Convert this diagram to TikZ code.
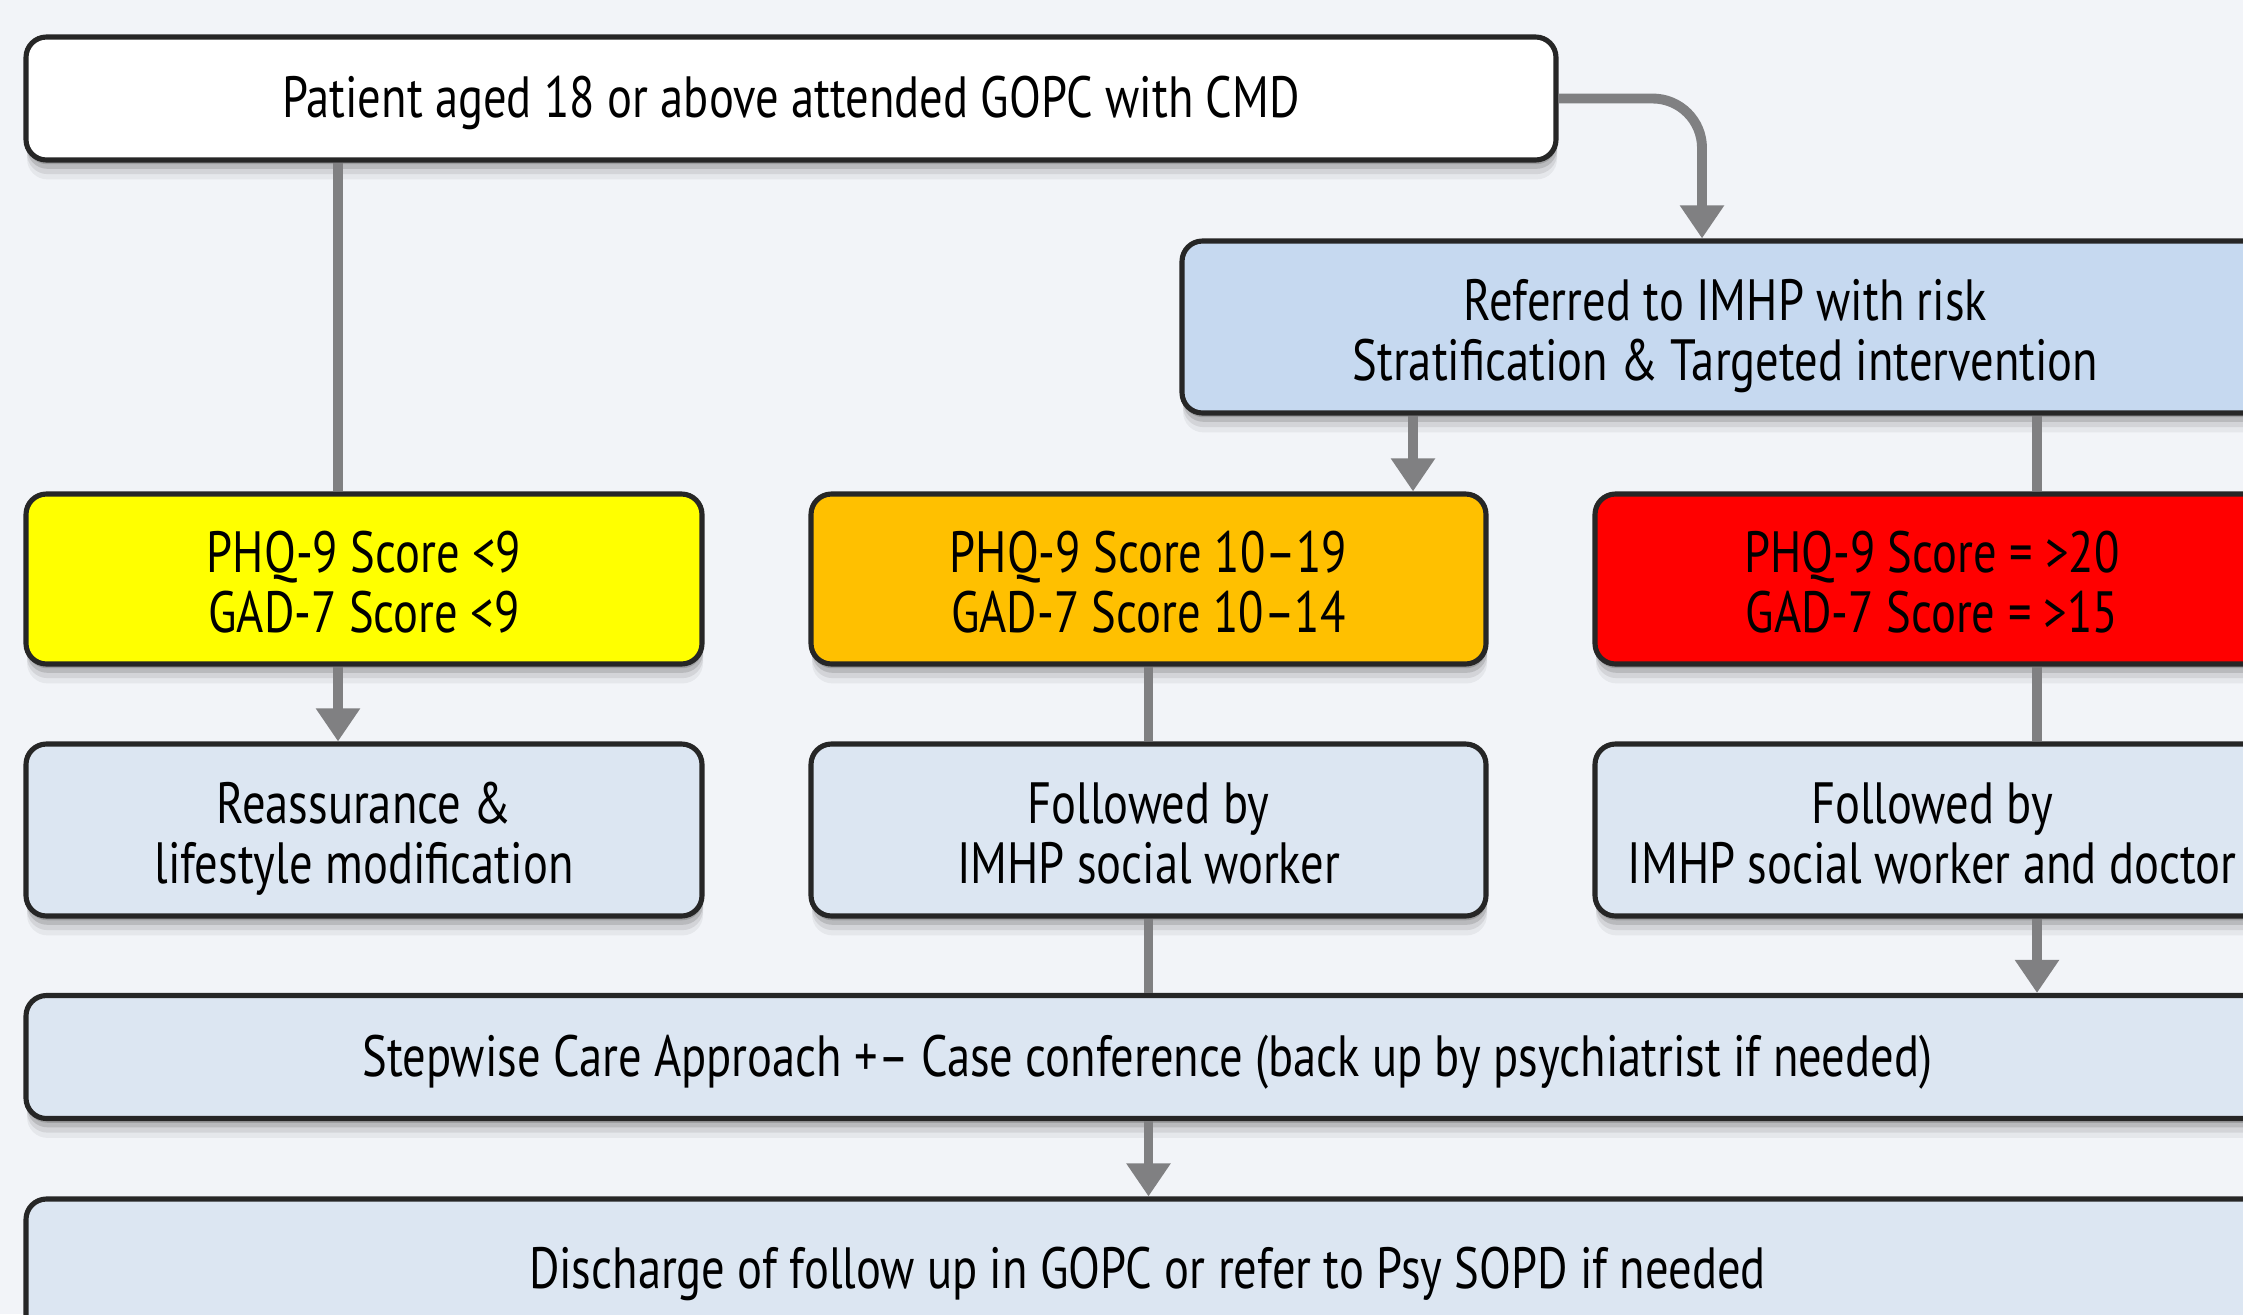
\documentclass[tikz,border=0pt]{standalone}
\usepackage{fontspec}
\setmainfont[FakeStretch=0.8]{PT Sans}
\usetikzlibrary{arrows.meta,shadows,calc}
\definecolor{bgc}{RGB}{242,244,248}
\definecolor{edgec}{RGB}{38,38,38}
\definecolor{refc}{RGB}{198,217,240}
\definecolor{lowc}{RGB}{220,230,242}
\definecolor{yelc}{RGB}{255,255,0}
\definecolor{orgc}{RGB}{255,192,0}
\definecolor{redc}{RGB}{255,0,0}
\definecolor{connc}{RGB}{128,128,130}
\newcommand\onel[1]{\rule{0pt}{15.5pt}#1\rule[-4.5pt]{0pt}{0pt}}
\newcommand\twol[2]{\vbox{\baselineskip=17pt\lineskiplimit=-100pt\lineskip=0pt
  \halign{\hfil##\hfil\cr\rule{0pt}{18pt}#1\cr#2\rule[-4.5pt]{0pt}{0pt}\cr}}}
\tikzset{
  box/.style={draw=edgec, line width=1.45pt, rounded corners=5.8pt, inner sep=0pt,
    font=\fontsize{16.5}{17}\selectfont,
    drop shadow={shadow xshift=0.3pt, shadow yshift=-5.5pt, opacity=0.05, fill=black},
    drop shadow={shadow xshift=0.3pt, shadow yshift=-4pt, opacity=0.08, fill=black},
    drop shadow={shadow xshift=0.3pt, shadow yshift=-2.5pt, opacity=0.12, fill=black},
    drop shadow={shadow xshift=0.2pt, shadow yshift=-1.2pt, opacity=0.15, fill=black}},
  conn/.style={draw=connc, line width=2.8pt},
  arr/.style={conn, -{Triangle[length=9.4pt,width=12pt]}},
}
\begin{document}
\begin{tikzpicture}[x=0.2835pt,y=-0.2835pt]
\fill[bgc] (0,0) rectangle (2243,1314);
\useasboundingbox (0,0) rectangle (2243,1314);
\clip (0,0) rectangle (2243,1314);
% nodes
\node[box, fill=white, minimum width=1530*0.2835pt, minimum height=123*0.2835pt] (top) at (791,98.5)
  {\onel{Patient aged 18 or above attended GOPC with CMD}};
\node[box, fill=refc, minimum width=1087*0.2835pt, minimum height=172*0.2835pt] (ref) at (1725.5,327)
  {\twol{Referred to IMHP with risk}{Stratification \& Targeted intervention}};
\node[box, fill=yelc, minimum width=676*0.2835pt, minimum height=170*0.2835pt] (yel) at (364,579)
  {\twol{PHQ-9 Score <9}{GAD-7 Score <9}};
\node[box, fill=orgc, minimum width=675*0.2835pt, minimum height=170*0.2835pt] (org) at (1148.5,579)
  {\twol{PHQ-9 Score 10--19}{GAD-7 Score 10--14}};
\node[box, fill=redc, minimum width=674*0.2835pt, minimum height=170*0.2835pt] (red) at (1932,579)
  {\twol{PHQ-9 Score = >20}{GAD-7 Score = >15}};
\node[box, fill=lowc, minimum width=676*0.2835pt, minimum height=172*0.2835pt] (rea) at (364,830)
  {\twol{Reassurance \&}{lifestyle modification}};
\node[box, fill=lowc, minimum width=675*0.2835pt, minimum height=172*0.2835pt] (fo) at (1148.5,830)
  {\twol{Followed by}{IMHP social worker}};
\node[box, fill=lowc, minimum width=674*0.2835pt, minimum height=172*0.2835pt] (fr) at (1932,830)
  {\twol{Followed by}{IMHP social worker and doctor}};
\node[box, fill=lowc, minimum width=2243*0.2835pt, minimum height=123*0.2835pt] (step) at (1147.5,1057)
  {\onel{Stepwise Care Approach +-- Case conference (back up by psychiatrist if needed)}};
\node[box, fill=lowc, minimum width=2243*0.2835pt, minimum height=140*0.2835pt] (dis) at (1147.5,1269)
  {\onel{Discharge of follow up in GOPC or refer to Psy SOPD if needed}};
% connector anchors
\coordinate (refin) at (1702,0 |- ref.north);
\coordinate (ao) at (1413,0 |- ref.south);
\coordinate (ar) at (2037,0 |- ref.south);
\coordinate (ay) at (338,0 |- top.south);
% connectors
\draw[arr, rounded corners=14pt] (top.east) -| (refin);
\draw[conn] (ay) -- (ay |- yel.north);
\draw[arr] (ao) -- (ao |- org.north);
\draw[conn] (ar) -- (ar |- red.north);
\draw[arr] (ay |- yel.south) -- (ay |- rea.north);
\draw[conn] (org.south) -- (fo.north);
\draw[conn] (ar |- red.south) -- (ar |- fr.north);
\draw[conn] (fo.south) -- (fo.south |- step.north);
\draw[arr] (ar |- fr.south) -- (ar |- step.north);
\draw[arr] (fo.south |- step.south) -- (fo.south |- dis.north);
\end{tikzpicture}
\end{document}
